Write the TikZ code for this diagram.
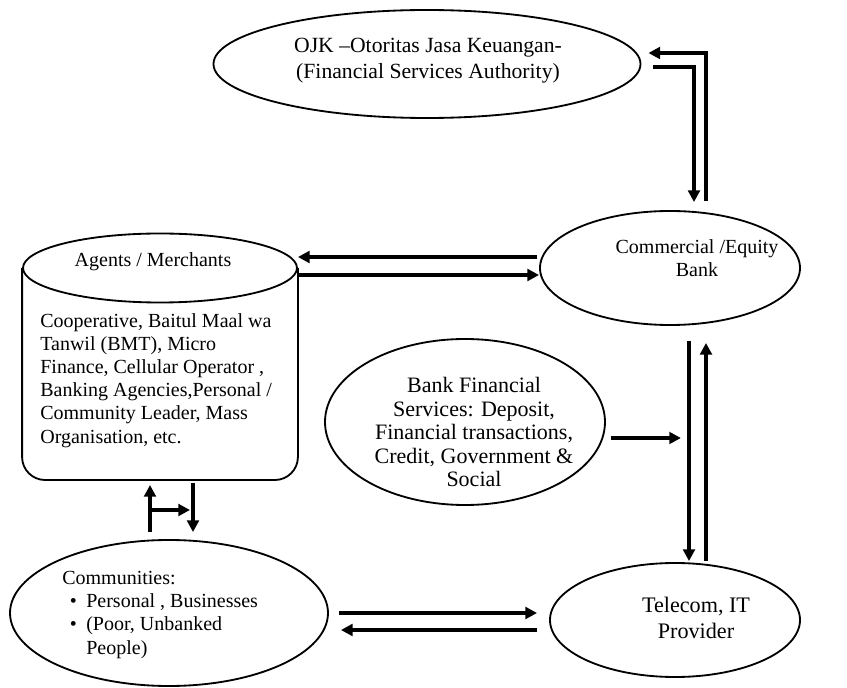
\documentclass[tikz,border=0pt]{standalone}
\usepackage{fontspec}
\setmainfont{Liberation Serif}
\usetikzlibrary{shapes.geometric,arrows.meta,calc}

\begin{document}
\begin{tikzpicture}[
  x=0.6pt, y=-0.6pt,
  font=\fontsize{12}{13.9}\selectfont,
  oval/.style={ellipse, draw, line width=1.1pt, inner sep=0pt},
  txt/.style={align=center, inner sep=0pt},
  flow/.style={-{Triangle[length=7pt, width=7pt]}, line width=2pt}
]
\useasboundingbox (0,0) rectangle (847,688);

% Regulator
\node[oval, minimum width=256.2pt, minimum height=64.8pt] (ojk) at (427,64) {};
\node[txt, font=\fontsize{13}{15.6}\selectfont] (ojktext) at ($(ojk)+(1,-3)$)
  {OJK –Otoritas Jasa Keuangan-\\(Financial Services Authority)};

% Bank
\node[oval, minimum width=156pt, minimum height=68.4pt] (bank) at (670,268) {};
\node[txt] (banktext) at ($(bank)+(27,-10)$) {Commercial /Equity\\Bank};

% Agents (cylinder)
\node[oval, minimum width=164.4pt, minimum height=41.4pt] (agents) at (160,268) {};
\node[txt] (agentstext) at ($(agents)+(-7,-6)$) {Agents / Merchants};
\coordinate (agentsbase) at (160,480);
\draw[line width=1.1pt, rounded corners=13.8pt] (agents.west) |- (agentsbase) -| (agents.east);
\node[txt, align=left, anchor=north west] (agentsinfo) at (40,313)
  {Cooperative, Baitul Maal wa\\Tanwil (BMT), Micro\\Finance, Cellular Operator ,\\Banking Agencies,Personal /\\Community Leader, Mass\\Organisation, etc.};

% Services
\node[oval, minimum width=168pt, minimum height=99.6pt] (services) at (465,422) {};
\node[txt, font=\fontsize{13.2}{14.1}\selectfont] (servicestext) at ($(services)+(9,10)$)
  {Bank Financial\\Services: Deposit,\\Financial transactions,\\Credit, Government \&\\Social};

% Communities
\node[oval, minimum width=190.8pt, minimum height=87.6pt] (communities) at (169,613) {};
\node[txt, align=left, anchor=north west] (communitiestext) at (62,571)
  {Communities:\\
   \hspace*{4.5pt}\makebox[9.9pt][l]{\textbullet}Personal , Businesses\\
   \hspace*{4.5pt}\makebox[9.9pt][l]{\textbullet}(Poor, Unbanked\\
   \hspace*{14.4pt}People)};

% Telecom
\node[oval, minimum width=150pt, minimum height=68.4pt] (telecom) at (675,620) {};
\node[txt, font=\fontsize{13.3}{15.5}\selectfont] (telecomtext) at ($(telecom)+(21,-2)$)
  {Telecom, IT\\Provider};

% Bank <-> OJK
\draw[flow] ($(bank.north)+(36,-9)$) |- ($(ojk.east)+(7,-11)$);
\draw[flow] ($(ojk.east)+(12,3)$) -| ($(bank.north)+(24,-8)$);

% Bank <-> Agents
\draw[flow] ($(bank.west)+(-2,-11)$) -- ($(agents.east)+(0,-11)$);
\draw[flow] ($(agents.east)+(0,7)$) -- ($(bank.west)+(0,7)$);

% Bank <-> Telecom
\draw[flow] ($(bank.south)+(19,15)$) -- ($(telecom.north)+(14,-1)$);
\draw[flow] ($(telecom.north)+(31,-1)$) -- ($(bank.south)+(36,17)$);

% Services into the link
\coordinate (servicesend) at ($(services.east)+(75,16)$);
\draw[flow] ($(services.east)+(5,16)$) -- (servicesend);

% Communities <-> Telecom
\draw[flow] ($(communities.east)+(10,0)$) -- ($(telecom.west)+(-12,-7)$);
\draw[flow] ($(telecom.west)+(-12,10)$) -- ($(communities.east)+(12,17)$);

% Communities <-> Agents
\draw[flow] ($(communities.north)+(-19,-7)$) -- ($(agentsbase)+(-10,5)$);
\draw[flow] ($(agentsbase)+(33,3)$) -- ($(communities.north)+(24,-7)$);
\draw[flow] ($(agentsbase)+(-10,30)$) -- ($(agentsbase)+(30,30)$);

\end{tikzpicture}
\end{document}
